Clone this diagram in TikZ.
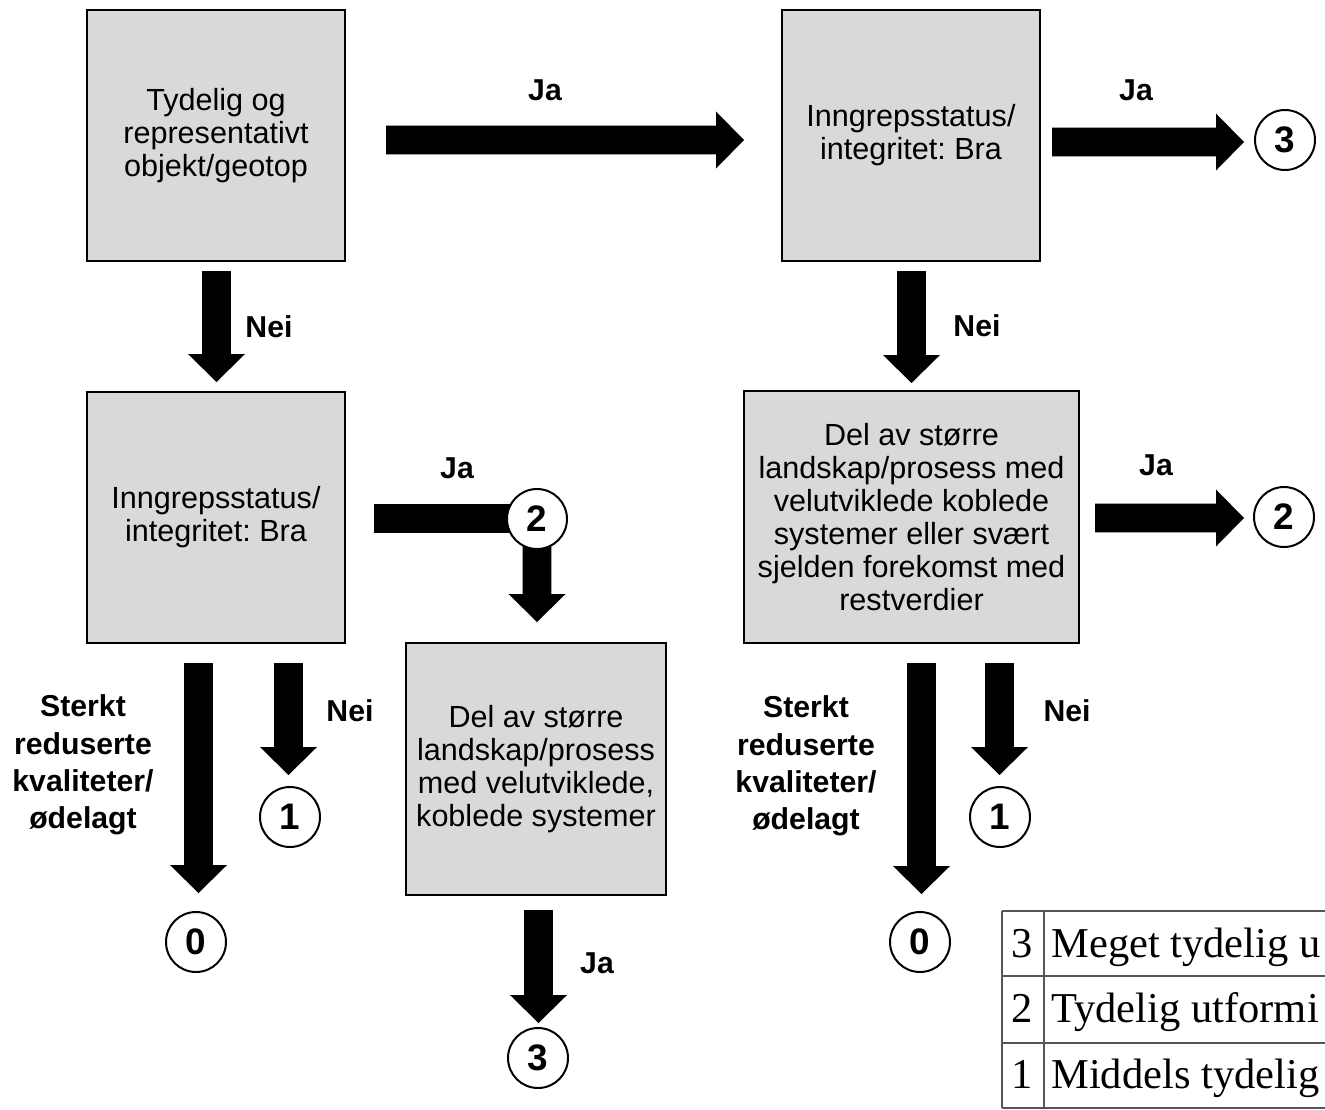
\documentclass[tikz,border=0pt]{standalone}
\usepackage{fontspec}
\setmainfont{Liberation Sans}
\newfontfamily\tabfont{Liberation Serif}
\usetikzlibrary{calc}
\frenchspacing
\definecolor{boxgray}{HTML}{D9D9D9}
\definecolor{tabgray}{HTML}{555555}
\newcommand{\SW}{8.22pt}
\newcommand{\HW}{16.16pt}
\newcommand{\HL}{15.87pt}
\newcommand{\blkdown}[2]{\fill let \p1=(#1), \p2=(#2) in (\x1-\SW,\y1) -- (\x1+\SW,\y1) -- (\x1+\SW,\y2+\HL) -- (\x1+\HW,\y2+\HL) -- (\x1,\y2) -- (\x1-\HW,\y2+\HL) -- (\x1-\SW,\y2+\HL) -- cycle;}
\newcommand{\blkright}[2]{\fill let \p1=(#1), \p2=(#2) in (\x1,\y1+\SW) -- (\x2-\HL,\y1+\SW) -- (\x2-\HL,\y1+\HW) -- (\x2,\y1) -- (\x2-\HL,\y1-\HW) -- (\x2-\HL,\y1-\SW) -- (\x1,\y1-\SW) -- cycle;}
\begin{document}
\begin{tikzpicture}[x=0.02cm,y=-0.02cm,
  box/.style={draw=black, line width=1.13pt, fill=boxgray, align=center, inner sep=0pt,
    font=\fontsize{17.4}{18.7}\selectfont, minimum height=5.04cm},
  num/.style={circle, draw=black, line width=1.13pt, fill=white, minimum size=1.2cm, inner sep=0pt,
    font=\fontsize{21}{22}\selectfont\bfseries},
  lbl/.style={font=\fontsize{17.2}{21.3}\selectfont\bfseries, align=center, inner sep=0pt},
  tabline/.style={draw=tabgray, line width=1.13pt},
  tabtxt/.style={font=\tabfont\fontsize{24.2}{26}\selectfont, inner sep=0pt}
]
\useasboundingbox (0,0) rectangle (1325,1109);
\clip (0,0) rectangle (1325,1109);
\fill[white] (0,0) rectangle (1325,1109);

% boxes
\node[box, minimum width=5.16cm] (b1) at (216,135.5) {Tydelig og\\representativt\\objekt/geotop};
\node[box, minimum width=5.16cm] (b2) at (911,135.5) {Inngrepsstatus/\\integritet: Bra};
\node[box, minimum width=5.16cm] (b3) at (216,517.5) {Inngrepsstatus/\\integritet: Bra};
\node[box, minimum width=6.7cm] (b4) at (911.5,517) {Del av større\\landskap/prosess med\\velutviklede koblede\\systemer eller svært\\sjelden forekomst med\\restverdier};
\node[box, minimum width=5.2cm] (b5) at (536,769) {Del av større\\landskap/prosess\\med velutviklede,\\koblede systemer};

% arrow coordinates
\coordinate (a1s) at (386,140);   \coordinate (a1e) at (744,140);
\coordinate (a2s) at (1052,142);  \coordinate (a2e) at (1244,142);
\coordinate (a3s) at (216.5,271); \coordinate (a3e) at (216.5,382);
\coordinate (a4s) at (911.5,271); \coordinate (a4e) at (911.5,383);
\coordinate (a5s) at (374,518.5);
\coordinate (a6e) at (537,622);
\coordinate (a7s) at (1095,518);  \coordinate (a7e) at (1244,518);
\coordinate (a8s) at (198.5,663); \coordinate (a8e) at (198.5,893);
\coordinate (a9s) at (288.5,663); \coordinate (a9e) at (288.5,775);
\coordinate (a10s) at (921.5,663); \coordinate (a10e) at (921.5,894);
\coordinate (a11s) at (999.5,663); \coordinate (a11e) at (999.5,775);
\coordinate (a12s) at (538.5,910); \coordinate (a12e) at (538.5,1023);
\coordinate (c2mc) at (537,519);

% block arrows
\blkright{a1s}{a1e}
\blkright{a2s}{a2e}
\blkdown{a3s}{a3e}
\blkdown{a4s}{a4e}
\fill let \p1=(a5s), \p2=(c2mc) in (\x1,\y1+\SW) rectangle (\x2,\y1-\SW);
\blkdown{c2mc}{a6e}
\blkright{a7s}{a7e}
\blkdown{a8s}{a8e}
\blkdown{a9s}{a9e}
\blkdown{a10s}{a10e}
\blkdown{a11s}{a11e}
\blkdown{a12s}{a12e}

% circles
\node[num] (c3t) at (1285,140) {3};
\node[num] (c2r) at (1284,517) {2};
\node[num] (c2m) at (c2mc) {2};
\node[num] (c1l) at (290,817) {1};
\node[num] (c0l) at (196,942) {0};
\node[num] (c1r) at (1000,817) {1};
\node[num] (c0r) at (920,942) {0};
\node[num] (c3b) at (538,1058) {3};

% labels
\node[lbl] (l1) at (545,90) {Ja};
\node[lbl] (l2) at (1136,90) {Ja};
\node[lbl] (l3) at (269,327) {Nei};
\node[lbl] (l4) at (977,326) {Nei};
\node[lbl] (l5) at (457,468) {Ja};
\node[lbl] (l6) at (1156,465) {Ja};
\node[lbl] (l7) at (350,711) {Nei};
\node[lbl] (l8) at (1067,711) {Nei};
\node[lbl] (l9) at (597,963) {Ja};
\node[lbl] (l10) at (83,765) {Sterkt\\reduserte\\kvaliteter/\\ødelagt};
\node[lbl] (l11) at (806,766) {Sterkt\\reduserte\\kvaliteter/\\ødelagt};

% table
\draw[tabline] (1002,911) -- (1340,911);
\draw[tabline] (1002,976) -- (1340,976);
\draw[tabline] (1002,1043) -- (1340,1043);
\draw[tabline] (1002,1108) -- (1340,1108);
\draw[tabline] (1002,911) -- (1002,1108);
\draw[tabline] (1044,911) -- (1044,1108);
\node[tabtxt, anchor=base] (t3) at (1022,957) {3};
\node[tabtxt, anchor=base] (t2) at (1022,1022) {2};
\node[tabtxt, anchor=base] (t1) at (1022,1088) {1};
\node[tabtxt, anchor=base west] (tm3) at (1051,957) {Meget tydelig u};
\node[tabtxt, anchor=base west] (tm2) at (1051,1022) {Tydelig utformi};
\node[tabtxt, anchor=base west] (tm1) at (1051,1088) {Middels tydelig};
\end{tikzpicture}
\end{document}
